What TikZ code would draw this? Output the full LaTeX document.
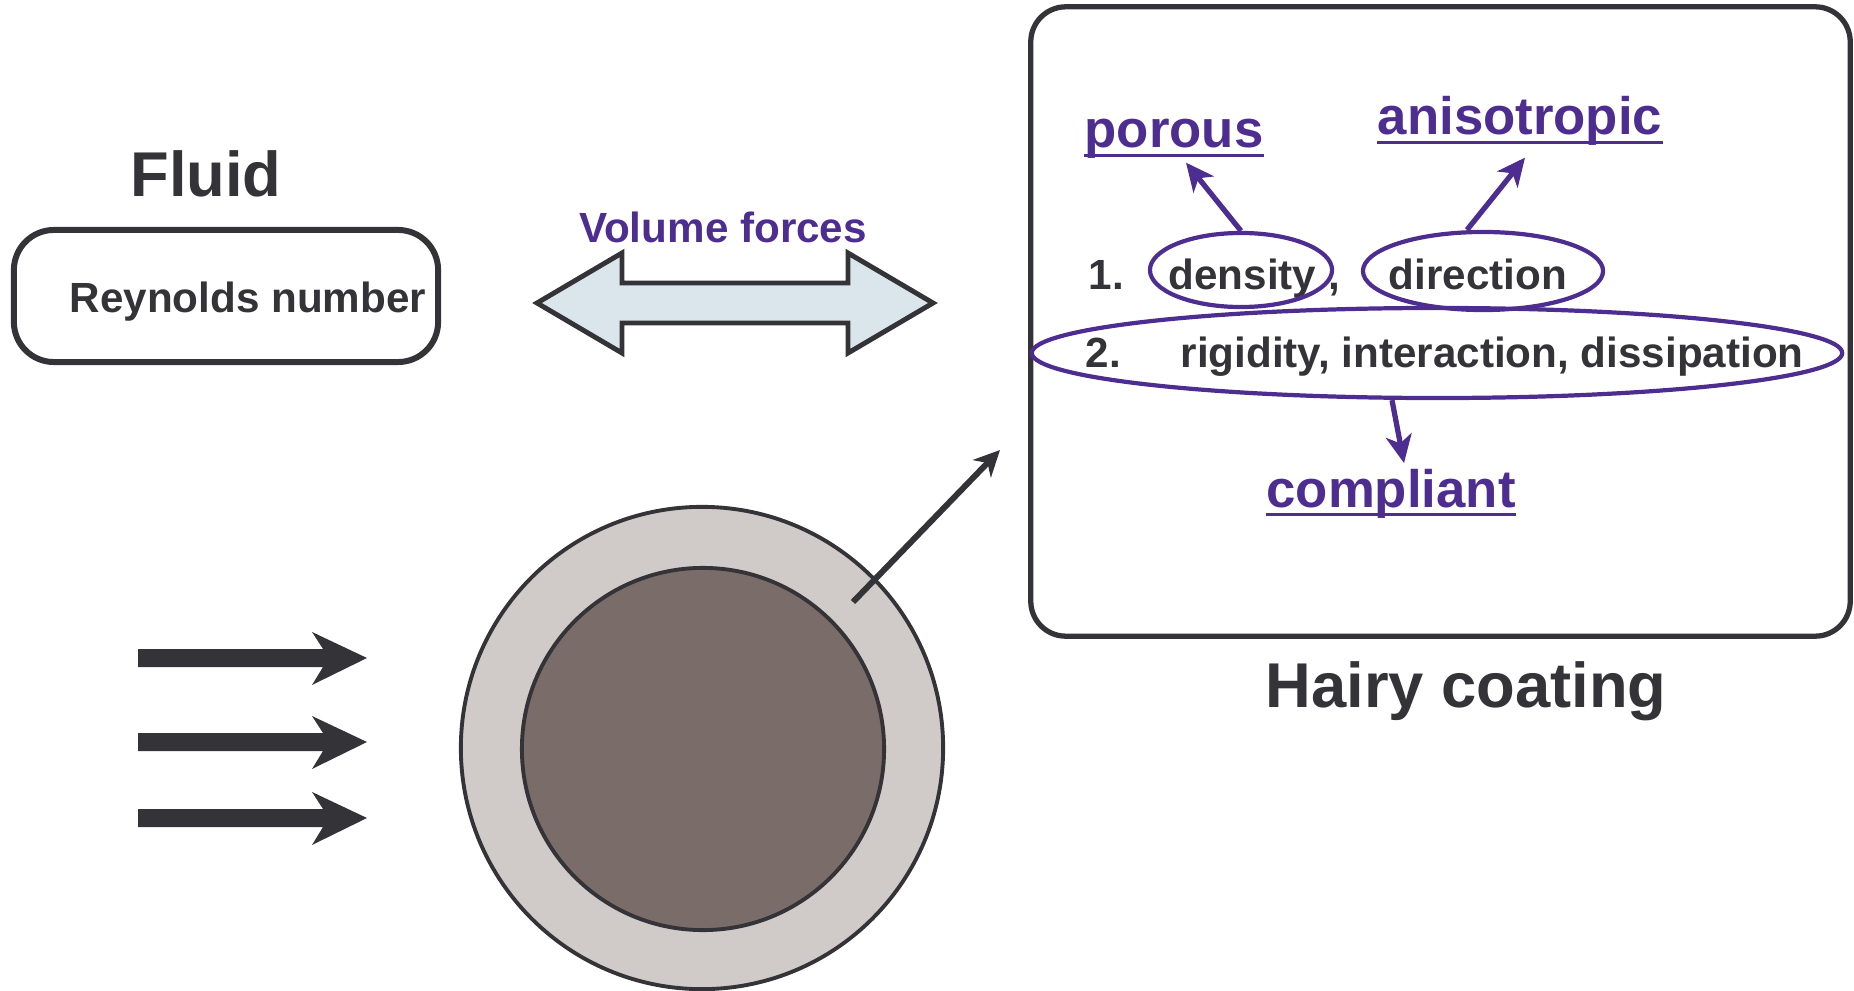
\documentclass[tikz,border=0pt]{standalone}
\usepackage{fontspec}
\setmainfont{Liberation Sans}
\usetikzlibrary{arrows.meta,shapes.geometric,calc}
\definecolor{ink}{RGB}{51,51,56}
\definecolor{hv}{RGB}{78,45,145}
\definecolor{arrowfill}{RGB}{218,229,236}
\definecolor{ringfill}{RGB}{208,202,200}
\definecolor{corefill}{RGB}{122,108,105}
\begin{document}
\begin{tikzpicture}[x=0.01cm, y=-0.01cm,
  title/.style={font=\fontsize{18}{20}\selectfont\bfseries, text=ink, inner sep=0},
  small/.style={font=\fontsize{12}{14}\selectfont\bfseries, text=ink, inner sep=0},
  prop/.style={font=\fontsize{15}{17}\selectfont\bfseries, text=hv, inner sep=0},
  ring/.style={ellipse, draw=hv, line width=1.2pt, inner sep=0},
  hvarrow/.style={draw=hv, line width=1.5pt, -{Stealth[length=2.8mm,width=2.6mm,inset=0.8mm]}},
  panel/.style={draw=ink, inner sep=0}]
\useasboundingbox (0,0) rectangle (1854,991);

% Fluid side
\node[title, anchor=base] (fluid) at (206,196) {Fluid};
\node[panel, line width=1.7pt, rounded corners=0.4cm, minimum width=4.24cm, minimum height=1.32cm] (fluidbox) at (226,296) {};
\node[small, anchor=base] (reyn) at (248,313) {Reynolds number};

% Volume forces double arrow
\node[small, anchor=base, text=hv] (vol) at (723,243) {Volume forces};
\draw[ink, line width=1.4pt, fill=arrowfill, line join=miter]
  (537,303) -- (622,253) -- (622,283) -- (848,283) -- (848,253) -- (933,303)
  -- (848,353) -- (848,323) -- (622,323) -- (622,353) -- cycle;

% incoming flow
\foreach \y in {658,742,818}
  \fill[ink] (138,\y-9) -- (323,\y-9) -- (312,\y-26) -- (367,\y) -- (312,\y+27)
    -- (323,\y+9) -- (138,\y+9) -- cycle;

% coated cylinder
\node[circle, draw=ink, line width=1.1pt, fill=ringfill, minimum size=4.82cm, inner sep=0] (coat) at (702,748) {};
\node[circle, draw=ink, line width=1.1pt, fill=corefill, minimum size=3.62cm, inner sep=0] (core) at (703,749) {};
\coordinate (hairroot) at (853,602);
\coordinate (hairtip) at (1000,450);
\draw[ink, line width=1.7pt, -{Stealth[length=2.6mm,width=2.5mm,inset=0.8mm]}] (hairroot) -- (hairtip);

% hairy coating panel
\node[panel, line width=1.5pt, rounded corners=0.35cm, minimum width=8.19cm, minimum height=6.29cm] (hairbox) at (1440.5,321.5) {};
\node[title, anchor=base] (hairy) at (1466,707) {Hairy coating};

\node[small, anchor=base west] (n1) at (1088,290) {1.};
\node[small, anchor=base west] (dens) at (1168,290) {density};
\node[small, anchor=base west] (comma) at (1328,290) {,};
\node[small, anchor=base west] (dir) at (1388,290) {direction};
\node[small, anchor=base west] (n2) at (1085,367) {2.};
\node[small, anchor=base west] (props) at (1180,367) {rigidity, interaction, dissipation};

\node[ring, minimum width=1.82cm, minimum height=0.74cm] (densring) at (1241,270) {};
\node[ring, minimum width=2.40cm, minimum height=0.78cm] (dirring) at (1483,271) {};
\node[ring, minimum width=8.10cm, minimum height=0.90cm] (mechring) at (1437,353) {};

\node[prop, anchor=base] (porous) at (1174,148) {porous};
\node[prop, anchor=base] (aniso) at (1520,135) {anisotropic};
\node[prop, anchor=base] (compl) at (1391,507) {compliant};
\foreach \n in {porous,aniso,compl}
  \draw[hv, line width=0.9pt] ([yshift=-0.75mm]\n.base west) -- ([yshift=-0.75mm]\n.base east);

\draw[hvarrow] (densring.north) -- ([shift={(12,3)}]porous.south);
\draw[hvarrow] ([xshift=-1.6mm]dirring.north) -- ([shift={(5,11)}]aniso.south);
\draw[hvarrow] ([xshift=-4.5mm]mechring.south) -- ([shift={(13,-5)}]compl.north);
\end{tikzpicture}
\end{document}
